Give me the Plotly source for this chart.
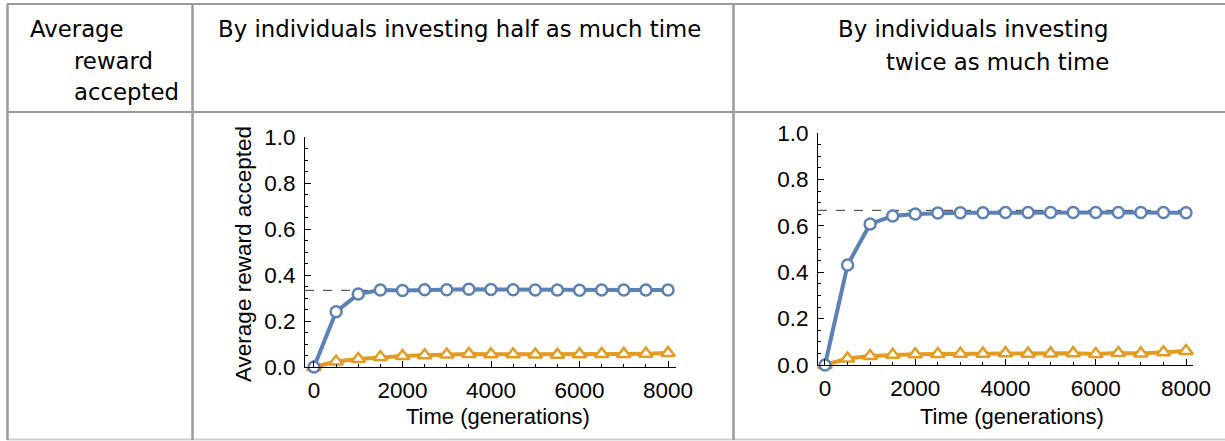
import plotly.graph_objects as go

W, H = 1225, 441

time_gen = [0, 500, 1000, 1500, 2000, 2500, 3000, 3500, 4000, 4500, 5000, 5500, 6000, 6500, 7000, 7500, 8000]

half_blue = [0.0, 0.24, 0.317, 0.335, 0.333, 0.336, 0.336, 0.338, 0.337, 0.336, 0.335, 0.335, 0.334, 0.335, 0.335, 0.335, 0.335]
half_orange = [0.0, 0.024, 0.035, 0.043, 0.048, 0.051, 0.054, 0.057, 0.055, 0.055, 0.054, 0.053, 0.055, 0.057, 0.057, 0.058, 0.061]
half_ref = 1 / 3

twice_blue = [0.0, 0.431, 0.608, 0.642, 0.651, 0.655, 0.656, 0.656, 0.657, 0.657, 0.657, 0.657, 0.657, 0.657, 0.657, 0.657, 0.656]
twice_orange = [0.0, 0.028, 0.039, 0.044, 0.046, 0.047, 0.048, 0.049, 0.051, 0.049, 0.050, 0.051, 0.047, 0.052, 0.050, 0.055, 0.060]
twice_ref = 2 / 3

y_ticks = [0.0, 0.2, 0.4, 0.6, 0.8, 1.0]
y_tick_labels = ["0.0", "0.2", "0.4", "0.6", "0.8", "1.0"]
x_ticks = [0, 2000, 4000, 6000, 8000]

header_left = ["Average", "reward", "accepted"]
header_half = "By individuals investing half as much time"
header_twice = ["By individuals investing", "twice as much time"]
y_title = "Average reward accepted"
x_title = "Time (generations)"

BLUE = "#5E81B5"
ORANGE = "#E19C24"
GRID = "#9a9a9a"
TICKFONT = dict(family="Liberation Sans, Arial", size=22.5, color="black")
TITLEFONT = dict(family="Liberation Sans, Arial", size=22, color="black")
HEADFONT = dict(family="DejaVu Sans", size=22.8, color="black")


def px(x):
    return x / W


def py(y):
    return 1 - y / H


fig = go.Figure()

panels = [
    dict(blue=half_blue, orange=half_orange, ref=half_ref, xa="x", ya="y",
         xdom=[305, 676], ydom=[367, 137], xrange=[-203, 8180], xtitle_x=498),
    dict(blue=twice_blue, orange=twice_orange, ref=twice_ref, xa="x2", ya="y2",
         xdom=[818, 1193], ydom=[365, 133], xrange=[-155, 8155], xtitle_x=1012),
]

annotations = []

for i, p in enumerate(panels):
    fig.add_trace(go.Scatter(
        x=p["xrange"], y=[p["ref"], p["ref"]], mode="lines",
        line=dict(color="#333333", width=1, dash="dash"),
        xaxis=p["xa"], yaxis=p["ya"], showlegend=False, hoverinfo="skip"))
    fig.add_trace(go.Scatter(
        x=time_gen, y=p["orange"], mode="lines+markers",
        line=dict(color=ORANGE, width=4),
        marker=dict(symbol="triangle-up", size=12, color="white",
                    line=dict(color=ORANGE, width=2.5)),
        xaxis=p["xa"], yaxis=p["ya"], showlegend=False, cliponaxis=False))
    fig.add_trace(go.Scatter(
        x=time_gen, y=p["blue"], mode="lines+markers",
        line=dict(color=BLUE, width=4),
        marker=dict(symbol="circle", size=11, color="white",
                    line=dict(color=BLUE, width=2.5)),
        xaxis=p["xa"], yaxis=p["ya"], showlegend=False, cliponaxis=False))

    sfx = "" if i == 0 else "2"
    xa = dict(
        domain=[px(p["xdom"][0]), px(p["xdom"][1])],
        range=p["xrange"], showline=True, linecolor="black", linewidth=1,
        ticks="inside", ticklen=6, tickcolor="black", tickwidth=1,
        tickvals=x_ticks, tickfont=TICKFONT, showgrid=False, zeroline=False,
        ticklabelstandoff=3,
        minor=dict(dtick=500, tick0=0, ticks="inside", ticklen=3, tickcolor="black", showgrid=False),
        anchor="y" + sfx,
    )
    ya = dict(
        domain=[py(p["ydom"][0]), py(p["ydom"][1])],
        range=[0, 1], showline=True, linecolor="black", linewidth=1,
        ticks="inside", ticklen=6, tickcolor="black", tickwidth=1,
        tickvals=y_ticks, ticktext=y_tick_labels, tickfont=TICKFONT,
        showgrid=False, zeroline=False, ticklabelstandoff=4,
        minor=dict(dtick=0.05, tick0=0, ticks="inside", ticklen=3, tickcolor="black", showgrid=False),
        anchor="x" + sfx,
    )
    fig.update_layout(**{"xaxis" + sfx: xa, "yaxis" + sfx: ya})
    annotations.append(dict(text=x_title, x=px(p["xtitle_x"]), y=py(416), xref="paper", yref="paper",
                            xanchor="center", yanchor="middle", showarrow=False, font=TITLEFONT))

annotations.append(dict(text=y_title, x=px(243), y=py(254), xref="paper", yref="paper",
                        xanchor="center", yanchor="middle", showarrow=False, textangle=-90,
                        font=dict(family="Liberation Sans, Arial", size=22.5, color="black")))

shapes = []
for yy, col in [(4, GRID), (112, GRID), (439.5, "#cfcfcf")]:
    shapes.append(dict(type="line", xref="paper", yref="paper",
                       x0=px(7), x1=1, y0=py(yy), y1=py(yy),
                       line=dict(color=col, width=2)))
for xx in [7.5, 192.5, 733.5]:
    shapes.append(dict(type="line", xref="paper", yref="paper",
                       x0=px(xx), x1=px(xx), y0=py(4), y1=py(440),
                       line=dict(color=GRID, width=2.5)))

left_pos = [(28, 29), (72, 61), (72, 92)]
for txt, (x, y) in zip(header_left, left_pos):
    annotations.append(dict(text=txt, x=px(x), y=py(y), xref="paper", yref="paper",
                            xanchor="left", yanchor="middle", showarrow=False, font=HEADFONT))
annotations.append(dict(text=header_half, x=px(216), y=py(29), xref="paper", yref="paper",
                        xanchor="left", yanchor="middle", showarrow=False, font=HEADFONT))
for txt, y in zip(header_twice, [29, 62]):
    annotations.append(dict(text=txt, x=px(1111), y=py(y), xref="paper", yref="paper",
                            xanchor="right", yanchor="middle", showarrow=False, font=HEADFONT))

fig.update_layout(
    autosize=True, margin=dict(l=0, r=0, t=0, b=0, autoexpand=False),
    paper_bgcolor="white", plot_bgcolor="white",
    shapes=shapes, annotations=annotations,
)

fig.write_html(
    "out.html",
    default_width="100vw",
    default_height="100vh",
    config={"displayModeBar": False, "responsive": True},
    post_script=(
        "document.documentElement.style.margin='0';"
        "document.documentElement.style.overflow='hidden';"
        "document.body.style.margin='0';"
        "document.body.style.overflow='hidden';"
    ),
)
